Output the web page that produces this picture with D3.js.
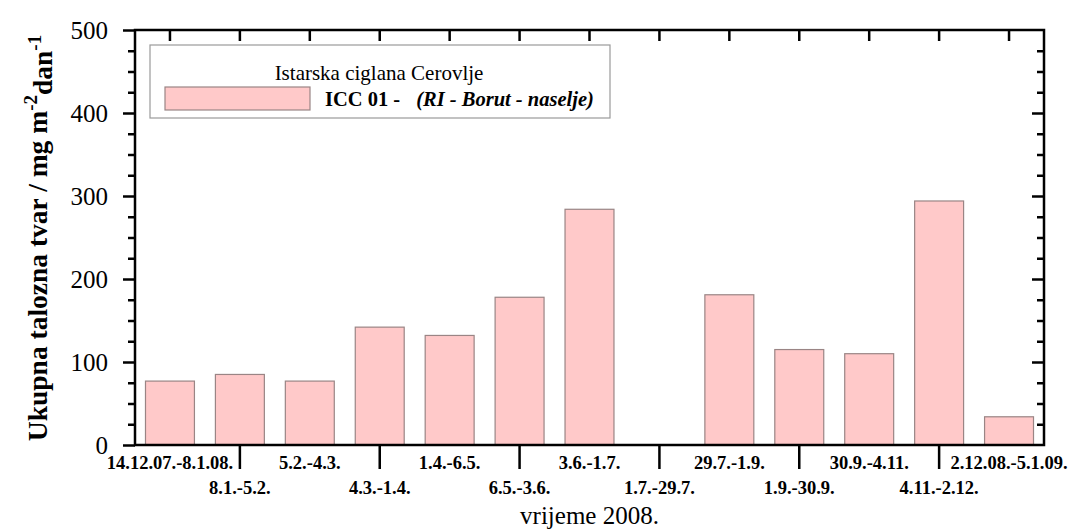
<!DOCTYPE html>
<html>
<head>
<meta charset="utf-8">
<script src="https://cdn.jsdelivr.net/npm/d3@7"></script>
<style>
  html, body { margin: 0; padding: 0; background: #ffffff; }
  svg { display: block; font-family: "Liberation Serif", "Times New Roman", serif; }
</style>
</head>
<body>
<svg id="chart" width="1070" height="529"></svg>
<script>
// Sampling periods (2008) and total deposited matter, mg m-2 day-1
const categories = [
  "14.12.07.-8.1.08.", "8.1.-5.2.", "5.2.-4.3.", "4.3.-1.4.", "1.4.-6.5.",
  "6.5.-3.6.", "3.6.-1.7.", "1.7.-29.7.", "29.7.-1.9.", "1.9.-30.9.",
  "30.9.-4.11.", "4.11.-2.12.", "2.12.08.-5.1.09."
];
const values = [77, 85, 77, 142, 132, 178, 284, null, 181, 115, 110, 294, 34];
const yMajorTicks = [0, 100, 200, 300, 400, 500];
const yMinorTicks = [25, 50, 75, 125, 150, 175, 225, 250, 275, 325, 350, 375, 425, 450, 475];

const seriesTitle = "Istarska ciglana Cerovlje";
const seriesBold = "ICC 01 -";
const seriesItalic = "(RI - Borut - naselje)";

const svg = d3.select("#chart");
const plot = { left: 135, right: 1044, top: 30, bottom: 445 };

const x = d3.scaleBand()
  .domain(categories)
  .range([plot.left, plot.right])
  .paddingInner(0.3)
  .paddingOuter(0.15);

const y = d3.scaleLinear()
  .domain([0, 500])
  .range([plot.bottom, plot.top]);

// Bars
svg.append("g")
  .selectAll("rect")
  .data(categories.map((c, i) => ({ c, v: values[i] })).filter(d => d.v != null))
  .join("rect")
  .attr("x", d => x(d.c))
  .attr("y", d => y(d.v))
  .attr("width", x.bandwidth())
  .attr("height", d => y(0) - y(d.v))
  .attr("fill", "#ffc9c9")
  .attr("stroke", "#9a8585")
  .attr("stroke-width", 1.2);

function styleAxis(g, fontSize, bold) {
  g.select(".domain").remove();
  g.selectAll(".tick line").attr("stroke", "#000").attr("stroke-width", 2.5);
  g.selectAll(".tick text")
    .attr("fill", "#000")
    .style("font-family", "'Liberation Serif', 'Times New Roman', serif")
    .style("font-size", fontSize + "px")
    .style("font-weight", bold ? "bold" : "normal");
}

// Left axis: major ticks with labels, minor ticks without
svg.append("g")
  .attr("transform", `translate(${plot.left},0)`)
  .call(d3.axisLeft(y).tickValues(yMajorTicks).tickSize(12).tickPadding(15).tickFormat(d3.format("d")))
  .call(g => styleAxis(g, 25, false));
svg.append("g")
  .attr("transform", `translate(${plot.left},0)`)
  .call(d3.axisLeft(y).tickValues(yMinorTicks).tickSize(7).tickFormat(""))
  .call(g => styleAxis(g, 25, false));

// Right axis: inward ticks
svg.append("g")
  .attr("transform", `translate(${plot.right},0)`)
  .call(d3.axisRight(y).tickValues(yMajorTicks.slice(1, -1)).tickSize(-12).tickFormat(""))
  .call(g => styleAxis(g, 25, false));
svg.append("g")
  .attr("transform", `translate(${plot.right},0)`)
  .call(d3.axisRight(y).tickValues(yMinorTicks).tickSize(-7).tickFormat(""))
  .call(g => styleAxis(g, 25, false));

// Top axis: inward ticks at each period
svg.append("g")
  .attr("transform", `translate(0,${plot.top})`)
  .call(d3.axisTop(x).tickSize(-11).tickFormat(""))
  .call(g => styleAxis(g, 18, true));

// Bottom axis: staggered period labels, long ticks under the second row
const rowOne = categories.filter((c, i) => i % 2 === 0);
const rowTwo = categories.filter((c, i) => i % 2 === 1);

svg.append("g")
  .attr("transform", `translate(0,${plot.bottom})`)
  .call(d3.axisBottom(x).tickValues(rowOne).tickSize(0).tickPadding(11))
  .call(g => styleAxis(g, 18.5, true));
svg.append("g")
  .attr("transform", `translate(0,${plot.bottom})`)
  .call(d3.axisBottom(x).tickValues(rowTwo).tickSize(24).tickPadding(12))
  .call(g => styleAxis(g, 18.5, true));

// Frame
svg.append("rect")
  .attr("x", plot.left)
  .attr("y", plot.top)
  .attr("width", plot.right - plot.left)
  .attr("height", plot.bottom - plot.top)
  .attr("fill", "none")
  .attr("stroke", "#000")
  .attr("stroke-width", 2.5);

// X title
svg.append("text")
  .attr("x", (plot.left + plot.right) / 2)
  .attr("y", 524)
  .attr("text-anchor", "middle")
  .style("font-size", "25px")
  .attr("fill", "#000")
  .text("vrijeme 2008.");

// Y title with superscript exponents
const yTitle = svg.append("text")
  .attr("transform", "translate(47,238) rotate(-90)")
  .attr("text-anchor", "middle")
  .style("font-size", "27.5px")
  .style("font-weight", "bold")
  .attr("fill", "#000");
yTitle.append("tspan").text("Ukupna talozna tvar / mg m");
yTitle.append("tspan").attr("dy", "-0.55em").style("font-size", "19px").text("-2");
yTitle.append("tspan").attr("dy", "0.55em").text("dan");
yTitle.append("tspan").attr("dy", "-0.55em").style("font-size", "19px").text("-1");

// Legend
const legend = svg.append("g");
legend.append("rect")
  .attr("x", 150).attr("y", 45)
  .attr("width", 460).attr("height", 73)
  .attr("fill", "#fff")
  .attr("stroke", "#9a9a9a")
  .attr("stroke-width", 1.2);
legend.append("text")
  .attr("x", 379).attr("y", 80)
  .attr("text-anchor", "middle")
  .style("font-size", "21px")
  .attr("fill", "#000")
  .text(seriesTitle);
legend.append("rect")
  .attr("x", 165).attr("y", 87)
  .attr("width", 145).attr("height", 23)
  .attr("fill", "#ffc9c9")
  .attr("stroke", "#9a8585")
  .attr("stroke-width", 1.2);
const legendLabel = legend.append("text")
  .attr("x", 325).attr("y", 106)
  .style("font-size", "20.5px")
  .style("font-weight", "bold")
  .attr("fill", "#000");
legendLabel.append("tspan").text(seriesBold);
legendLabel.append("tspan").attr("dx", "16").style("font-style", "italic").text(seriesItalic);
</script>
</body>
</html>
